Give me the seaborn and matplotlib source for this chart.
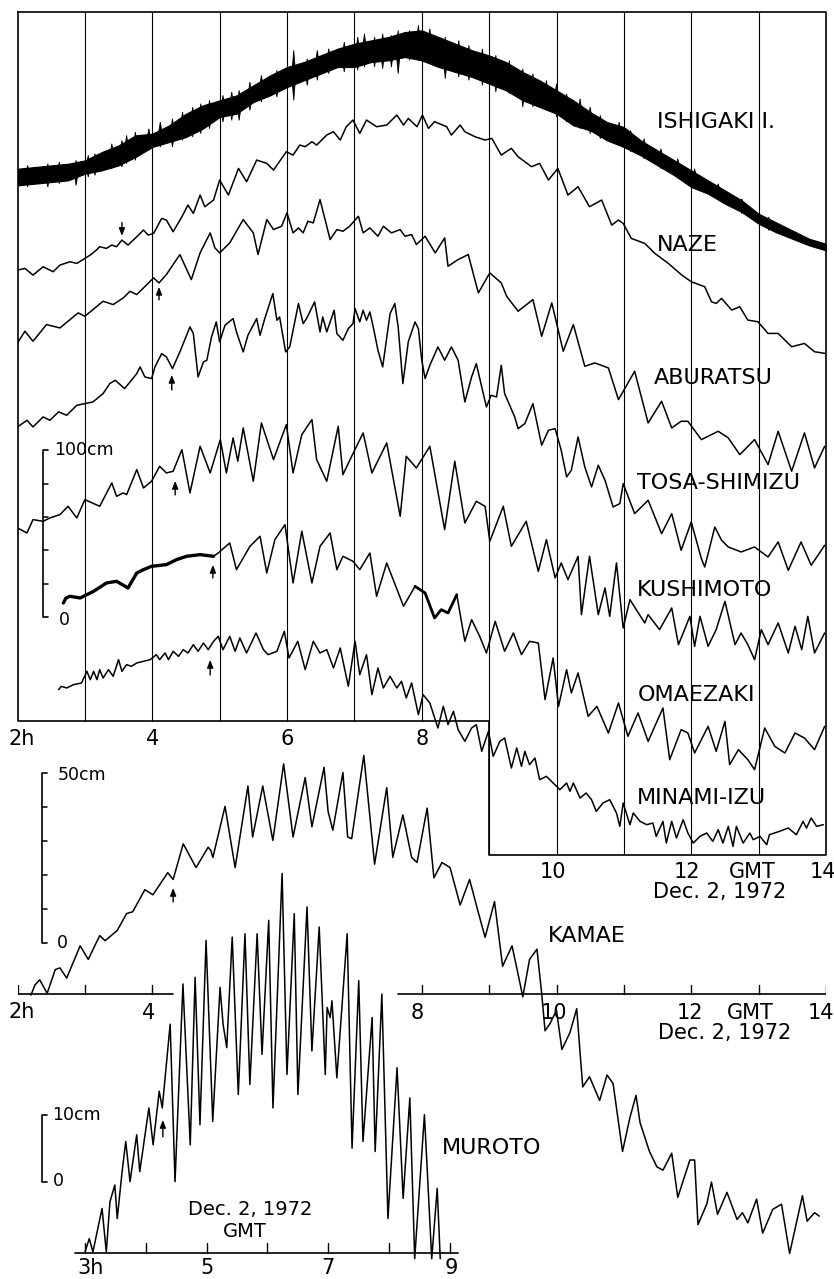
import matplotlib
matplotlib.use("Agg")
import matplotlib.pyplot as plt
import numpy as np
import seaborn as sns

sns.set_style("white")
plt.rcParams["font.family"] = ["DejaVu Sans"]
plt.rcParams["text.color"] = "black"

# Tide records of Dec. 2, 1972. Hours GMT, level in cm above the start of each record.
# Ishigaki I. is drawn as a band (upper / lower envelope) with its sharp spikes.
ISHIGAKI_H = [2.0, 2.25, 2.5, 2.75, 3.0, 3.25, 3.5, 3.75, 4.0, 4.25, 4.5, 4.75, 5.0,
              5.25, 5.5, 5.75, 6.0, 6.25, 6.5, 6.75, 7.0, 7.25, 7.5, 7.75, 8.0, 8.25,
              8.5, 8.75, 9.0, 9.25, 9.5, 9.75, 10.0, 10.25, 10.5, 10.75, 11.0, 11.25,
              11.5, 11.75, 12.0, 12.25, 12.5, 12.75, 13.0, 13.25, 13.5, 13.75, 14.0]
ISHIGAKI_TOP = [5, 6, 7, 8, 10, 15, 19, 25, 26, 31, 38, 43, 46, 49, 55, 61, 66, 69, 73,
                77, 80, 82, 84, 87, 88, 84, 80, 76, 73, 69, 63, 58, 52, 46, 39, 33, 30,
                22, 16, 10, 4, -2, -8, -14, -22, -27, -32, -37, -40]
ISHIGAKI_BOTTOM = [-5, -4, -3, -2, 2, 4, 7, 12, 18, 21, 24, 29, 36, 38, 45, 49, 54, 58,
                   62, 66, 66, 69, 70, 72, 70, 66, 63, 60, 56, 52, 46, 42, 38, 31, 28,
                   22, 18, 13, 7, 1, -6, -10, -16, -21, -28, -33, -37, -41, -44]
ISHIGAKI_SPIKES = [(2.15, -6, 7), (2.45, -6, 8), (2.62, -4, 9), (2.87, -5, 10), (3.05, 0, 13),
                   (3.15, 1, 14), (3.40, 5, 20), (3.55, 6, 22), (3.62, 8, 25), (3.75, 10, 27),
                   (3.95, 16, 29), (4.12, 18, 33), (4.30, 18, 35), (4.45, 22, 39),
                   (4.60, 24, 42), (4.72, 26, 44), (4.85, 29, 46), (5.05, 33, 49),
                   (5.18, 34, 51), (5.29, 34, 52), (5.45, 40, 57), (5.62, 45, 61),
                   (5.85, 48, 64), (6.10, 46, 76), (6.30, 55, 71), (6.45, 58, 76),
                   (6.62, 62, 77), (6.85, 63, 81), (7.05, 64, 84), (7.15, 66, 86),
                   (7.30, 66, 84), (7.42, 65, 86), (7.55, 66, 85), (7.65, 62, 88),
                   (7.82, 70, 88), (7.95, 70, 91), (8.12, 68, 89), (8.35, 59, 84),
                   (8.55, 60, 82), (8.70, 58, 79), (8.90, 55, 77), (9.10, 51, 73),
                   (9.30, 50, 70), (9.50, 42, 65), (9.65, 42, 62), (9.85, 40, 58),
                   (10.0, 36, 56), (10.15, 33, 50), (10.35, 29, 47), (10.50, 26, 42),
                   (10.65, 23, 37), (10.93, 19, 33), (11.10, 15, 28), (11.30, 11, 23),
                   (11.55, 5, 17), (11.80, 0, 11), (12.05, -7, 5), (12.40, -13, -4),
                   (12.75, -22, -13), (13.15, -32, -24)]

NAZE = [(2.00, 0), (2.11, 1), (2.23, -3), (2.38, 2), (2.53, -1), (2.63, 3), (2.78, 5),
        (2.88, 4), (3.00, 7), (3.08, 9), (3.17, 12), (3.22, 14), (3.32, 13), (3.40, 15),
        (3.47, 14), (3.55, 18), (3.64, 15), (3.77, 20), (3.87, 24), (3.94, 21), (4.02, 22),
        (4.14, 31), (4.21, 30), (4.31, 23), (4.44, 32), (4.53, 39), (4.61, 34), (4.71, 45),
        (4.78, 38), (4.91, 42), (5.00, 54), (5.13, 45), (5.28, 61), (5.40, 53), (5.55, 66),
        (5.70, 64), (5.80, 60), (5.99, 71), (6.09, 69), (6.19, 75), (6.27, 74), (6.37, 77),
        (6.44, 75), (6.59, 81), (6.69, 83), (6.79, 78), (6.88, 86), (6.98, 90), (7.08, 82),
        (7.18, 90), (7.33, 86), (7.48, 87), (7.63, 93), (7.73, 87), (7.80, 91), (7.93, 86),
        (8.01, 93), (8.10, 85), (8.19, 89), (8.37, 86), (8.44, 81), (8.57, 87), (8.64, 83),
        (8.79, 80), (8.94, 78), (9.04, 79), (9.18, 69), (9.33, 73), (9.43, 68), (9.63, 62),
        (9.75, 64), (9.88, 54), (10.02, 61), (10.17, 45), (10.32, 50), (10.49, 38),
        (10.67, 42), (10.82, 27), (10.92, 30), (10.99, 28), (11.11, 19), (11.31, 16),
        (11.46, 10), (11.66, 4), (11.86, -3), (12.00, -7), (12.20, -10), (12.30, -19),
        (12.37, -20), (12.45, -17), (12.60, -24), (12.72, -22), (12.84, -30), (12.99, -31),
        (13.14, -38), (13.29, -38), (13.49, -46), (13.68, -44), (13.83, -49), (13.99, -50)]

ABURATSU = [(2.00, 0), (2.11, 7), (2.23, 1), (2.43, 11), (2.63, 9), (2.78, 14), (2.90, 18),
            (3.00, 16), (3.12, 20), (3.27, 25), (3.42, 23), (3.57, 27), (3.67, 31),
            (3.77, 29), (3.92, 35), (4.02, 39), (4.10, 36), (4.21, 41), (4.41, 53),
            (4.58, 38), (4.71, 54), (4.86, 66), (4.93, 57), (5.00, 54), (5.15, 60),
            (5.35, 74), (5.50, 66), (5.57, 53), (5.70, 74), (5.80, 68), (5.92, 70),
            (6.00, 78), (6.09, 66), (6.17, 69), (6.24, 66), (6.31, 73), (6.39, 72),
            (6.49, 86), (6.64, 62), (6.74, 68), (6.83, 67), (6.93, 70), (7.06, 76),
            (7.13, 66), (7.23, 69), (7.35, 64), (7.43, 70), (7.55, 66), (7.68, 68),
            (7.75, 64), (7.85, 65), (7.92, 59), (8.05, 64), (8.20, 54), (8.34, 63),
            (8.39, 46), (8.54, 50), (8.69, 53), (8.84, 30), (9.01, 42), (9.18, 36),
            (9.26, 28), (9.43, 19), (9.65, 26), (9.78, 4), (9.93, 24), (10.10, -5),
            (10.25, 11), (10.42, -14), (10.57, -12), (10.77, -15), (10.92, -34),
            (11.16, -17), (11.36, -48), (11.56, -35), (11.71, -51), (11.85, -47),
            (11.95, -47), (12.15, -58), (12.40, -53), (12.55, -57), (12.72, -67),
            (12.94, -58), (13.14, -73), (13.29, -53), (13.49, -77), (13.68, -54),
            (13.83, -75), (13.98, -62)]

TOSA_SHIMIZU = [(2.00, 0), (2.14, 4), (2.23, 0), (2.38, 6), (2.48, 4), (2.61, 9), (2.73, 7),
                (2.88, 13), (3.00, 14), (3.12, 15), (3.27, 20), (3.37, 26), (3.45, 28),
                (3.59, 23), (3.77, 32), (3.82, 36), (3.89, 30), (3.99, 29), (4.04, 36),
                (4.14, 44), (4.21, 42), (4.30, 35), (4.41, 45), (4.56, 60), (4.61, 56),
                (4.68, 30), (4.76, 39), (4.81, 40), (4.88, 54), (4.95, 63), (5.00, 51),
                (5.08, 61), (5.20, 65), (5.25, 57), (5.35, 45), (5.42, 55), (5.55, 65),
                (5.60, 55), (5.67, 65), (5.79, 80), (5.85, 64), (5.89, 66), (5.98, 45),
                (6.04, 48), (6.17, 74), (6.24, 62), (6.29, 65), (6.41, 75), (6.49, 57),
                (6.53, 66), (6.59, 57), (6.70, 70), (6.74, 56), (6.83, 52), (6.91, 59),
                (6.98, 62), (7.01, 71), (7.08, 63), (7.13, 70), (7.18, 64), (7.23, 69),
                (7.28, 60), (7.35, 46), (7.42, 36), (7.53, 68), (7.60, 74), (7.65, 60),
                (7.72, 26), (7.80, 51), (7.90, 63), (7.95, 59), (8.00, 40), (8.05, 29),
                (8.12, 37), (8.24, 48), (8.34, 40), (8.44, 48), (8.54, 40), (8.64, 15),
                (8.74, 30), (8.81, 38), (8.89, 24), (8.96, 12), (9.03, 19), (9.11, 18),
                (9.18, 37), (9.23, 20), (9.38, 6), (9.43, -1), (9.53, 2), (9.65, 14),
                (9.78, -11), (9.88, -2), (9.98, -1), (10.07, -14), (10.15, -30),
                (10.22, -26), (10.32, -6), (10.42, -24), (10.52, -36), (10.62, -23),
                (10.72, -32), (10.84, -48), (10.94, -46), (10.99, -34), (11.16, -52),
                (11.36, -44), (11.56, -64), (11.71, -52), (11.85, -74), (12.00, -57),
                (12.15, -79), (12.20, -84), (12.35, -60), (12.45, -68), (12.55, -72),
                (12.74, -75), (12.94, -72), (13.14, -78), (13.29, -69), (13.44, -86),
                (13.63, -69), (13.78, -83), (13.98, -71)]

KUSHIMOTO = [(2.00, 0), (2.14, -3), (2.23, 5), (2.38, 4), (2.48, 6), (2.63, 8), (2.75, 13),
             (2.88, 6), (3.00, 17), (3.22, 13), (3.40, 27), (3.47, 19), (3.57, 21),
             (3.62, 20), (3.77, 35), (3.87, 24), (3.99, 28), (4.11, 37), (4.21, 33),
             (4.31, 34), (4.44, 47), (4.56, 21), (4.71, 49), (4.86, 33), (5.01, 53),
             (5.10, 33), (5.20, 54), (5.27, 40), (5.35, 60), (5.50, 28), (5.62, 63),
             (5.80, 41), (5.89, 51), (5.99, 62), (6.09, 33), (6.22, 56), (6.37, 65),
             (6.44, 41), (6.59, 28), (6.76, 61), (6.83, 32), (6.96, 43), (7.13, 57),
             (7.26, 33), (7.48, 51), (7.68, 7), (7.77, 43), (7.92, 36), (8.12, 49),
             (8.34, -1), (8.49, 40), (8.64, 3), (8.81, 16), (8.94, 13), (9.01, -8),
             (9.21, 13), (9.33, -11), (9.55, 4), (9.73, -26), (9.85, -7), (9.98, -30),
             (10.07, -21), (10.17, -31), (10.32, -17), (10.37, -52), (10.49, -17),
             (10.62, -52), (10.72, -36), (10.79, -53), (10.89, -21), (10.99, -60),
             (11.09, -43), (11.31, -57), (11.36, -52), (11.53, -61), (11.71, -48),
             (11.81, -70), (11.98, -53), (12.05, -71), (12.13, -53), (12.25, -71),
             (12.37, -61), (12.50, -44), (12.65, -70), (12.74, -63), (12.84, -70),
             (12.94, -79), (13.04, -61), (13.14, -70), (13.29, -57), (13.44, -75),
             (13.54, -59), (13.64, -73), (13.73, -53), (13.83, -75), (13.98, -63)]

OMAEZAKI = [(2.68, 0), (2.72, 3), (2.78, 4), (2.93, 3), (3.13, 7), (3.32, 12), (3.47, 13),
            (3.64, 9), (3.77, 18), (3.87, 20), (3.99, 22), (4.21, 23), (4.36, 26),
            (4.51, 28), (4.71, 29), (4.91, 28), (4.98, 30), (5.15, 36), (5.25, 20),
            (5.45, 34), (5.60, 40), (5.70, 18), (5.82, 38), (5.97, 47), (6.09, 12),
            (6.22, 43), (6.37, 12), (6.49, 34), (6.64, 42), (6.74, 20), (6.83, 28),
            (6.98, 25), (7.08, 20), (7.23, 30), (7.33, 4), (7.48, 24), (7.73, -2),
            (7.90, 10), (8.05, 6), (8.19, -9), (8.29, -4), (8.39, -6), (8.52, 5),
            (8.64, -23), (8.74, -10), (8.86, -20), (8.96, -30), (9.09, -11), (9.23, -29),
            (9.36, -18), (9.48, -31), (9.60, -23), (9.73, -24), (9.83, -58), (9.95, -33),
            (10.03, -62), (10.15, -40), (10.22, -54), (10.32, -42), (10.47, -68),
            (10.60, -62), (10.77, -78), (10.92, -60), (11.06, -80), (11.21, -66),
            (11.36, -83), (11.58, -63), (11.68, -94), (11.85, -76), (11.95, -78),
            (12.05, -90), (12.25, -74), (12.37, -89), (12.50, -71), (12.57, -97),
            (12.70, -88), (12.84, -94), (12.94, -100), (13.09, -75), (13.24, -86),
            (13.39, -90), (13.54, -78), (13.68, -81), (13.83, -88), (13.98, -74)]

MINAMI_IZU = [(2.61, -1), (2.65, 1), (2.73, 0), (2.83, 2), (2.95, 3), (3.03, 10), (3.08, 5),
              (3.13, 10), (3.18, 5), (3.22, 11), (3.27, 6), (3.35, 11), (3.42, 7),
              (3.50, 17), (3.55, 10), (3.62, 14), (3.69, 13), (3.77, 15), (3.87, 16),
              (3.97, 17), (4.06, 20), (4.11, 17), (4.19, 21), (4.24, 17), (4.31, 22),
              (4.39, 19), (4.46, 23), (4.53, 21), (4.61, 26), (4.68, 22), (4.76, 27),
              (4.83, 23), (4.91, 28), (4.98, 31), (5.05, 23), (5.15, 31), (5.23, 22),
              (5.30, 30), (5.40, 21), (5.54, 33), (5.65, 23), (5.72, 20), (5.85, 22),
              (5.96, 34), (6.03, 18), (6.16, 28), (6.27, 11), (6.39, 28), (6.49, 21),
              (6.59, 23), (6.69, 12), (6.79, 24), (6.91, 1), (7.01, 28), (7.08, 8),
              (7.18, 20), (7.26, -4), (7.35, 12), (7.43, 0), (7.53, 7), (7.63, 0),
              (7.70, 4), (7.77, -6), (7.85, 3), (7.95, -16), (8.02, -4), (8.12, -9),
              (8.24, -24), (8.32, -11), (8.39, -22), (8.47, -14), (8.54, -25), (8.64, -32),
              (8.74, -24), (8.81, -22), (8.89, -38), (8.99, -26), (9.06, -41), (9.16, -32),
              (9.23, -30), (9.33, -48), (9.41, -36), (9.48, -47), (9.53, -38), (9.60, -46),
              (9.68, -42), (9.75, -55), (9.85, -53), (9.95, -57), (10.05, -61),
              (10.15, -57), (10.20, -62), (10.25, -57), (10.35, -66), (10.44, -63),
              (10.52, -67), (10.59, -74), (10.69, -69), (10.79, -67), (10.89, -75),
              (10.94, -83), (10.99, -69), (11.09, -82), (11.14, -75), (11.24, -80),
              (11.34, -82), (11.43, -81), (11.48, -89), (11.58, -80), (11.63, -93),
              (11.71, -80), (11.78, -90), (11.88, -79), (11.95, -87), (12.03, -93),
              (12.13, -89), (12.23, -87), (12.32, -92), (12.40, -85), (12.47, -93),
              (12.55, -83), (12.62, -95), (12.67, -83), (12.77, -93), (12.87, -87),
              (12.92, -91), (13.02, -89), (13.12, -94), (13.16, -88), (13.31, -86),
              (13.44, -84), (13.56, -88), (13.66, -80), (13.71, -84), (13.78, -78),
              (13.86, -83), (13.96, -82)]

KAMAE = [(2.20, -1.5), (2.26, 1.5), (2.33, 3), (2.44, -1), (2.56, 6), (2.63, 6.5), (2.73, 3.5),
         (2.93, 13), (3.05, 9), (3.22, 16), (3.30, 14.5), (3.48, 17.5), (3.62, 22.5),
         (3.71, 23), (3.89, 29.5), (4.01, 28), (4.23, 34.5), (4.31, 32.5), (4.46, 43),
         (4.65, 36), (4.83, 42), (4.87, 41), (4.90, 39), (5.08, 54), (5.23, 36), (5.42, 60),
         (5.49, 45), (5.64, 60), (5.79, 44), (5.95, 66.5), (6.09, 45), (6.27, 62.5),
         (6.37, 48), (6.55, 65.5), (6.61, 52.5), (6.68, 47), (6.83, 64), (6.90, 45),
         (6.96, 44.5), (7.14, 69), (7.30, 37), (7.48, 59.5), (7.57, 39), (7.72, 51.5),
         (7.85, 39), (7.93, 37.5), (8.08, 53.5), (8.18, 33), (8.30, 37.5), (8.42, 36),
         (8.57, 25), (8.71, 32.5), (8.83, 23.5), (8.94, 15.5), (9.08, 26), (9.20, 7),
         (9.34, 13), (9.41, 6.5), (9.50, -2), (9.60, 9), (9.71, 12), (9.78, -1),
         (9.83, -12), (9.90, -10), (10.00, -6), (10.08, -17.5), (10.20, -12.5),
         (10.30, -5.5), (10.35, -18.5), (10.39, -28.5), (10.49, -25.5), (10.64, -32.5),
         (10.75, -25), (10.84, -27.5), (10.98, -47.5), (11.09, -37.5), (11.18, -31),
         (11.24, -39), (11.38, -47.5), (11.49, -52), (11.58, -53), (11.71, -48),
         (11.80, -61), (11.98, -50), (12.05, -50), (12.10, -69), (12.23, -63),
         (12.30, -56.5), (12.39, -66), (12.53, -59.5), (12.68, -67.5), (12.76, -65.5),
         (12.84, -68.5), (12.97, -61.5), (13.06, -71.5), (13.21, -64.5), (13.34, -63),
         (13.46, -77.5), (13.65, -60.5), (13.72, -68), (13.83, -65.5), (13.90, -66.5)]

MUROTO = [(3.00, 0), (3.07, 2), (3.13, 0), (3.28, 6.5), (3.35, 0), (3.41, 7.5), (3.49, 10),
          (3.53, 5), (3.61, 12), (3.67, 16.5), (3.74, 10.5), (3.85, 17.5), (3.90, 12),
          (4.05, 21.5), (4.12, 16), (4.22, 24), (4.27, 21.5), (4.40, 34), (4.48, 10.5),
          (4.61, 40), (4.73, 16), (4.81, 41), (4.89, 19), (4.99, 46.5), (5.10, 19.5),
          (5.22, 39.5), (5.27, 34), (5.33, 30.5), (5.42, 47), (5.52, 23.5), (5.63, 47.5),
          (5.71, 25), (5.83, 47.5), (5.91, 29.5), (6.02, 49.5), (6.09, 21.5), (6.24, 56.5),
          (6.32, 26.5), (6.44, 50.5), (6.50, 23.5), (6.65, 51.5), (6.73, 30), (6.85, 48.5),
          (6.95, 26.5), (6.98, 36.5), (7.03, 35), (7.06, 37.5), (7.14, 26), (7.31, 47.5),
          (7.39, 15.5), (7.50, 40.5), (7.57, 16.5), (7.72, 35), (7.77, 15), (7.88, 38.5),
          (7.98, 5), (8.13, 27.5), (8.23, 8), (8.34, 23), (8.42, -1), (8.58, 20.5),
          (8.70, -1), (8.79, 9.5), (8.84, -1)]

# arrival of the tsunami (hour, arrow tail, arrow head) in the units of each panel
ARRIVALS_TOP = [(3.55, 299, 291), (4.10, 252.6, 260.4), (4.29, 198.6, 207.6),
                (4.34, 135.6, 144.0), (4.90, 85.8, 93.6), (4.86, 27.6, 36.6)]
ARRIVAL_KAMAE = (4.31, 25.9, 30.0)
ARRIVAL_MUROTO = (4.28, 17.2, 19.7)

# ---------------------------------------------------------------- layout
W, H = 834, 1279
fig = plt.figure(figsize=(W / 100, H / 100), dpi=100)
BIG, MID, SMALL = 16, 15, 12.5
LW = 1.1


def panel(left, top, right, bottom, xlim, ylim):
    ax = fig.add_axes([left / W, 1 - bottom / H, (right - left) / W, (bottom - top) / H])
    ax.set_xlim(*xlim)
    ax.set_ylim(*ylim)
    ax.set_axis_off()
    ax.patch.set_alpha(0)
    return ax


def trace(ax, record, offset=0.0, lw=LW):
    h, cm = zip(*record)
    sns.lineplot(x=np.array(h), y=np.array(cm, dtype=float) + offset, ax=ax, color="black",
                 linewidth=lw, estimator=None, sort=False)


def scale_bar(ax, h, lo, hi, step, cap):
    ax.plot([h + cap, h, h, h + cap], [hi, hi, lo, lo], color="black", lw=1.2)
    if step:
        for v in np.arange(lo + step, hi - step / 2, step):
            ax.plot([h, h + cap * 0.9], [v, v], color="black", lw=1.1)


def arrow(ax, h, tail, head):
    ax.annotate("", xy=(h, head), xytext=(h, tail),
                arrowprops=dict(arrowstyle="-|>,head_length=0.45,head_width=0.18",
                                color="black", lw=1.0, shrinkA=0, shrinkB=0))


# top panel: 1.667 px per cm, time axis (0 cm) at y=721 px
TOP_PX = 1.667
ax_top = panel(17.5, 12, 826, 855, (2, 14), (-(855 - 721) / TOP_PX, (721 - 12) / TOP_PX))
y_lo, y_hi = ax_top.get_ylim()
ax_top.plot([2, 14, 14, 9, 9, 2, 2], [y_hi, y_hi, y_lo, y_lo, 0, 0, y_hi],
            color="black", lw=1.2, clip_on=False)
for hr in range(3, 14):
    ax_top.plot([hr, hr], [0 if hr < 9 else y_lo, y_hi], color="black", lw=0.8)

offsets = {"ISHIGAKI": 326.3, "NAZE": 270.5, "ABURATSU": 226.8, "TOSA": 176.4,
           "KUSHIMOTO": 115.8, "OMAEZAKI": 70.8, "MINAMI": 19.8}

off = offsets["ISHIGAKI"]
ax_top.fill_between(ISHIGAKI_H, np.array(ISHIGAKI_BOTTOM) + off, np.array(ISHIGAKI_TOP) + off,
                    color="black", lw=0.8)
# spikes as thin tapered teeth
for h, lo, hi in ISHIGAKI_SPIKES:
    mid = (lo + hi) / 2 + off
    ax_top.fill([h - 0.03, h, h + 0.03, h], [mid, hi + off, mid, lo + off],
                color="black", lw=0.6)

trace(ax_top, NAZE, offsets["NAZE"])
trace(ax_top, ABURATSU, offsets["ABURATSU"])
trace(ax_top, TOSA_SHIMIZU, offsets["TOSA"])
trace(ax_top, KUSHIMOTO, offsets["KUSHIMOTO"])
trace(ax_top, OMAEZAKI, offsets["OMAEZAKI"])
trace(ax_top, [p for p in OMAEZAKI if p[0] <= 4.95], offsets["OMAEZAKI"], lw=2.4)
trace(ax_top, [p for p in OMAEZAKI if 7.85 <= p[0] <= 8.55], offsets["OMAEZAKI"], lw=2.0)
trace(ax_top, MINAMI_IZU, offsets["MINAMI"])

for h, tail, head in ARRIVALS_TOP:
    arrow(ax_top, h, tail, head)

scale_bar(ax_top, 2.38, 62.4, 162.4, 20, 0.08)
ax_top.text(2.55, 162.4, "100cm", fontsize=SMALL, ha="left", va="center")
ax_top.text(2.62, 60.5, "0", fontsize=SMALL, ha="left", va="center")

labels_top = [("ISHIGAKI I.", 11.49, 359.4), ("NAZE", 11.49, 285.6), ("ABURATSU", 11.44, 205.8),
              ("TOSA-SHIMIZU", 11.19, 142.8), ("KUSHIMOTO", 11.19, 78.6),
              ("OMAEZAKI", 11.20, 15.6), ("MINAMI-IZU", 11.20, -46.2)]
for txt, h, v in labels_top:
    ax_top.text(h, v, txt, fontsize=BIG, ha="left", va="center")

ax_top.text(1.87, -10.8, "2h", fontsize=MID, ha="left", va="center")
for hr in (4, 6, 8):
    ax_top.text(hr, -10.8, str(hr), fontsize=MID, ha="center", va="center")
for txt, h in (("10", 9.94), ("12", 11.94), ("GMT", 12.9), ("14", 13.95)):
    ax_top.text(h, -90.6, txt, fontsize=MID, ha="center", va="center")
ax_top.text(12.42, -102.6, "Dec. 2, 1972", fontsize=MID, ha="center", va="center")

# KAMAE: 3.4 px per cm, 0 cm at y=990 px
KAM_PX = 3.4
ax_kam = panel(17.5, 730, 826, 1279, (2, 14), (-(1279 - 990) / KAM_PX, (990 - 730) / KAM_PX))
trace(ax_kam, KAMAE)
arrow(ax_kam, *ARRIVAL_KAMAE)
axis_y = -1.2
ax_kam.plot([1.86, 4.31], [axis_y, axis_y], color="black", lw=1.2)
ax_kam.plot([7.65, 14.0], [axis_y, axis_y], color="black", lw=1.2)
for hr in (2, 3, 4, 8, 9, 10, 11, 12, 13, 14):
    ax_kam.plot([hr, hr], [axis_y, axis_y + 2.6], color="black", lw=1.0)
scale_bar(ax_kam, 2.36, 13.8, 63.8, 10, 0.08)
ax_kam.text(2.59, 63.2, "50cm", fontsize=SMALL, ha="left", va="center")
ax_kam.text(2.59, 13.8, "0", fontsize=SMALL, ha="left", va="center")
ax_kam.text(9.87, 15.9, "KAMAE", fontsize=BIG, ha="left", va="center")
ax_kam.text(1.86, -6.5, "2h", fontsize=MID, ha="left", va="center")
for txt, h in (("4", 3.95), ("8", 7.93), ("10", 9.96), ("12", 11.98), ("GMT", 12.87),
               ("14", 13.92)):
    ax_kam.text(h, -6.8, txt, fontsize=MID, ha="center", va="center")
ax_kam.text(12.5, -12.6, "Dec. 2, 1972", fontsize=MID, ha="center", va="center")

# MUROTO: own time scale (60.8 px per hour, 3h at x=85 px), 6.7 px per cm, 0 cm at y=1252 px
MUR_PX, MUR_HR = 6.7, 60.83
ax_mur = panel(0, 860, 834, 1279, (3 - 85 / MUR_HR, 3 + (834 - 85) / MUR_HR),
               (-(1279 - 1252) / MUR_PX, (1252 - 860) / MUR_PX))
trace(ax_mur, MUROTO)
arrow(ax_mur, *ARRIVAL_MUROTO)
ax_mur.plot([2.84, 9.13], [-0.15, -0.15], color="black", lw=1.2)
for hr in range(3, 10):
    ax_mur.plot([hr, hr], [-0.15, 1.4], color="black", lw=1.0)
scale_bar(ax_mur, 2.29, 10.4, 20.4, 0, 0.085)
ax_mur.text(2.46, 20.4, "10cm", fontsize=SMALL, ha="left", va="center")
ax_mur.text(2.47, 10.6, "0", fontsize=SMALL, ha="left", va="center")
ax_mur.text(8.87, 15.5, "MUROTO", fontsize=BIG, ha="left", va="center")
ax_mur.text(2.87, -2.4, "3h", fontsize=MID, ha="left", va="center")
for hr in (5, 7, 9):
    ax_mur.text(hr + (0.03 if hr == 9 else 0), -2.4, str(hr), fontsize=MID,
                ha="center", va="center")
ax_mur.text(5.71, 6.3, "Dec. 2, 1972", fontsize=14, ha="center", va="center")
ax_mur.text(5.63, 3.0, "GMT", fontsize=14, ha="center", va="center")

fig.savefig("out.png", dpi=100)
